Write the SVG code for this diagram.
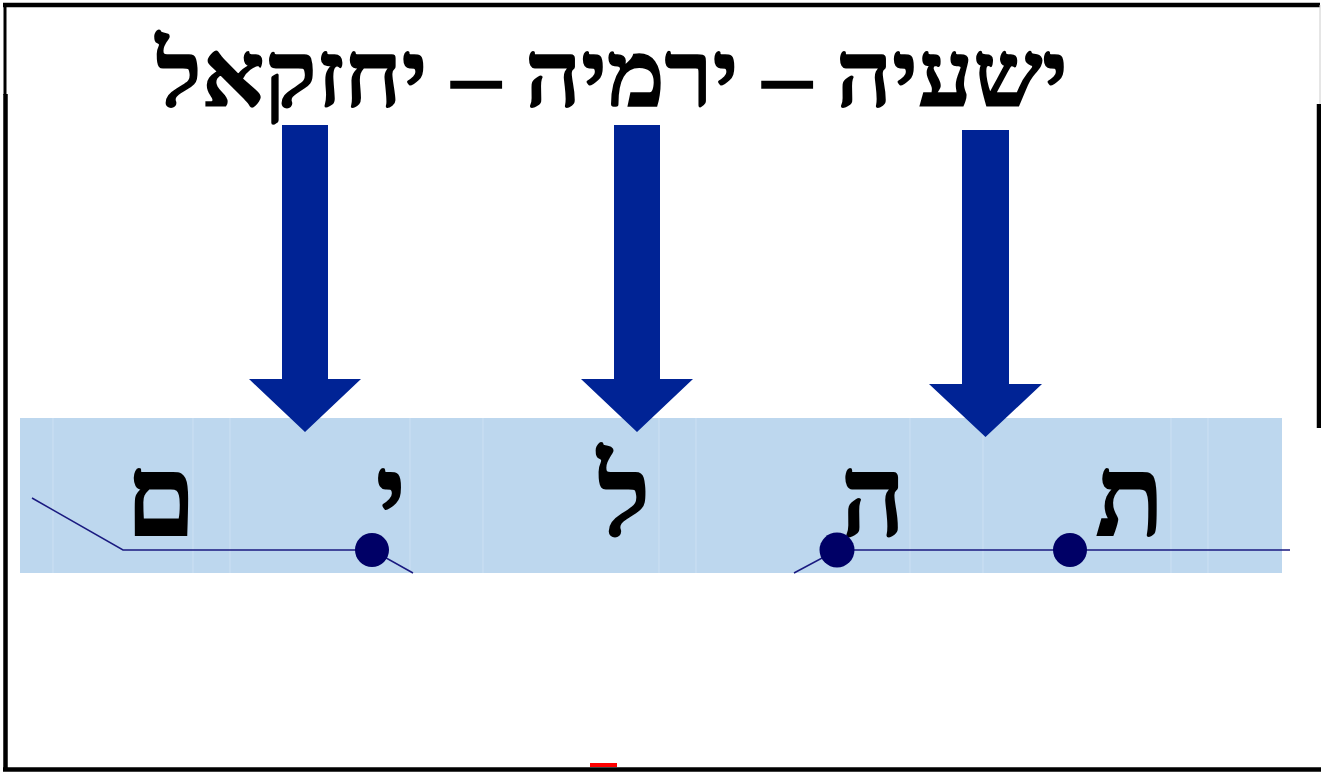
<svg xmlns="http://www.w3.org/2000/svg" width="1321" height="772" viewBox="0 0 1321 772">
<style>
.heb{font-family:"Liberation Serif","DejaVu Serif",serif;font-weight:bold;fill:#000;stroke:#000}
.title{font-size:92px;stroke-width:1.6}
.letter{font-size:112px;stroke-width:2}
.arrow{fill:#002395}
.seam{stroke:#CCE0F3;stroke-width:1}
.conn{stroke:#1A1A80;stroke-width:1.5;fill:none}
.dot{fill:#000066}
</style>
<rect x="0" y="0" width="1321" height="772" fill="#fff"/>
<g id="frame">
<line x1="3" y1="5" x2="1320" y2="5" stroke="#000" stroke-width="4.5"/>
<line x1="5" y1="5" x2="5" y2="95" stroke="#000" stroke-width="3"/>
<line x1="5.5" y1="94" x2="5.5" y2="769" stroke="#000" stroke-width="4.5"/>
<line x1="3" y1="769.5" x2="1321" y2="769.5" stroke="#000" stroke-width="4.5"/>
<line x1="1320" y1="5" x2="1320" y2="104" stroke="#ccc" stroke-width="1"/>
<line x1="1319" y1="104" x2="1319" y2="428" stroke="#000" stroke-width="4.5"/>
<rect x="590" y="763" width="27" height="4" fill="#ff0000"/>
</g>
<g id="band">
<rect x="20" y="418" width="1262" height="155" fill="#BDD7EE"/>
<g class="seam">
<line x1="53" y1="418" x2="53" y2="573"/>
<line x1="193" y1="418" x2="193" y2="573"/>
<line x1="230" y1="418" x2="230" y2="573"/>
<line x1="410" y1="418" x2="410" y2="573"/>
<line x1="483" y1="418" x2="483" y2="573"/>
<line x1="659" y1="418" x2="659" y2="573"/>
<line x1="696" y1="418" x2="696" y2="573"/>
<line x1="910" y1="418" x2="910" y2="573"/>
<line x1="983" y1="418" x2="983" y2="573"/>
<line x1="1171" y1="418" x2="1171" y2="573"/>
<line x1="1208" y1="418" x2="1208" y2="573"/>
</g>
</g>
<g id="title">
<text class="heb title" x="612" y="106" text-anchor="middle" direction="rtl" textLength="912" lengthAdjust="spacingAndGlyphs">ישעיה – ירמיה – יחזקאל</text>
</g>
<g id="letters">
<text id="mem" class="heb letter" x="161" y="535" text-anchor="middle">ם</text>
<text id="yod" class="heb letter" x="391" y="535" text-anchor="middle">י</text>
<text id="lamed" class="heb letter" x="624" y="535" text-anchor="middle">ל</text>
<text id="he" class="heb letter" x="873" y="535" text-anchor="middle">ה</text>
<text id="tav" class="heb letter" x="1130" y="535" text-anchor="middle">ת</text>
</g>
<g id="connectors">
<polyline class="conn" points="32,498 123,550 372,550 413,573"/>
<polyline class="conn" points="794,573 837,550 1290,550"/>
<polygon id="arrow1" class="arrow" points="282,125 328,125 328,379 361,379 305,432 249,379 282,379"/>
<polygon id="arrow2" class="arrow" points="614,125 660,125 660,379 693,379 637,432 581,379 614,379"/>
<polygon id="arrow3" class="arrow" points="962,130 1009,130 1009,384 1042,384 985.5,437 929,384 962,384"/>
</g>
<g id="dots">
<circle class="dot" cx="372" cy="550" r="17"/>
<circle class="dot" cx="837" cy="550" r="17.5"/>
<circle class="dot" cx="1070" cy="550" r="17"/>
</g>
</svg>
